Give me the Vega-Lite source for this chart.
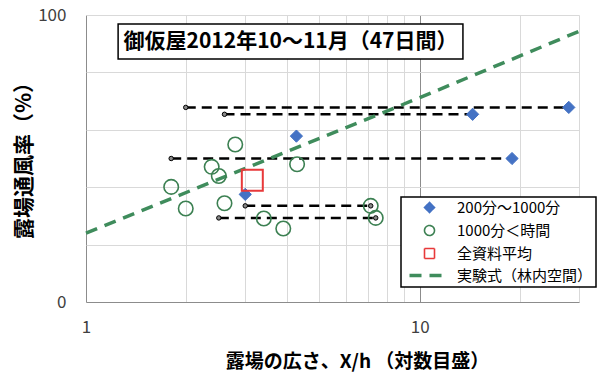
{
  "$schema": "https://vega.github.io/schema/vega-lite/v6.json",
  "width": 493,
  "height": 287,
  "autosize": "none",
  "padding": {"left": 86, "top": 15, "right": 21, "bottom": 84},
  "background": "white",
  "config": {"font": "Noto Sans CJK JP", "view": {"stroke": null}},
  "datasets": {
    "segs": [
      {"x1": 1.99, "x2": 27.96, "y": 67.8},
      {"x1": 2.6, "x2": 14.4, "y": 65.4},
      {"x1": 1.8, "x2": 18.9, "y": 50.0},
      {"x1": 3.0, "x2": 7.13, "y": 33.5},
      {"x1": 2.5, "x2": 7.38, "y": 29.3}
    ],
    "eq": [
      {"x": 1, "y": 24.0},
      {"x": 10, "y": 71.2},
      {"x": 30, "y": 94.3}
    ],
    "pts": [
      {"s": "1000分＜時間", "x": 2.8, "y": 54.9},
      {"s": "1000分＜時間", "x": 2.38, "y": 47.1},
      {"s": "1000分＜時間", "x": 2.5, "y": 43.9},
      {"s": "1000分＜時間", "x": 1.8, "y": 40.1},
      {"s": "1000分＜時間", "x": 1.99, "y": 32.6},
      {"s": "1000分＜時間", "x": 2.6, "y": 34.4},
      {"s": "1000分＜時間", "x": 4.29, "y": 48.0},
      {"s": "1000分＜時間", "x": 3.41, "y": 29.1},
      {"s": "1000分＜時間", "x": 3.9, "y": 25.6},
      {"s": "1000分＜時間", "x": 7.13, "y": 33.5},
      {"s": "1000分＜時間", "x": 7.38, "y": 29.3}
    ],
    "dia": [
      {"s": "200分～1000分", "x": 4.27, "y": 57.8},
      {"s": "200分～1000分", "x": 3.0, "y": 37.5},
      {"s": "200分～1000分", "x": 14.4, "y": 65.4},
      {"s": "200分～1000分", "x": 27.96, "y": 67.8},
      {"s": "200分～1000分", "x": 18.9, "y": 50.0}
    ],
    "avg": [
      {"s": "全資料平均", "x": 3.15, "y": 42.4}
    ],
    "box": [
      {"x1": 1.248, "x2": 13.47, "y1": 96.9, "y2": 84.7, "xc": 4.1, "yc": 90.6, "label": "御仮屋2012年10～11月（47日間）"}
    ]
  },
  "layer": [
    {
      "data": {"name": "segs"},
      "mark": {"type": "rule", "color": "black", "strokeWidth": 2.5, "strokeDash": [10, 6]},
      "encoding": {
        "x": {
          "field": "x1", "type": "quantitative",
          "scale": {"type": "log", "domain": [1, 30], "nice": false},
          "axis": {
            "values": [1, 2, 3, 4, 5, 6, 7, 8, 9, 10, 20, 30],
            "labelExpr": "datum.value == 1 || datum.value == 10 ? datum.value + '' : ''",
            "labelFontSize": 17, "labelColor": "#404040", "labelPadding": 17,
            "labelOverlap": false, "labelFlush": false,
            "ticks": false, "domain": false,
            "gridColor": {"condition": {"test": "datum.value == 10 || datum.value == 1", "value": "#8c8c8c"}, "value": "#d9d9d9"},
            "title": "露場の広さ、X/h （対数目盛）",
            "titleFontSize": 19, "titleFontWeight": "bold", "titleColor": "black",
            "titlePadding": 17, "titleX": 271
          }
        },
        "x2": {"field": "x2"},
        "y": {
          "field": "y", "type": "quantitative",
          "scale": {"domain": [0, 100], "nice": false},
          "axis": {
            "values": [0, 10, 20, 30, 40, 50, 60, 70, 80, 90, 100],
            "labelExpr": "datum.value % 50 == 0 ? datum.value + '' : ''",
            "labelFontSize": 17, "labelColor": "#404040", "labelPadding": 20,
            "labelOverlap": false, "labelFlush": false,
            "ticks": false, "domain": false,
            "gridColor": {"condition": {"test": "datum.value == 50 || datum.value == 0", "value": "#8c8c8c"}, "value": "#d9d9d9"},
            "title": "露場通風率（%）",
            "titleFontSize": 21, "titleFontWeight": "bold", "titleColor": "black",
            "titlePadding": 3, "titleY": 140
          }
        }
      }
    },
    {
      "data": {"name": "segs"},
      "mark": {"type": "point", "filled": true, "fill": "#888888", "stroke": "black", "strokeWidth": 1, "size": 20, "opacity": 1},
      "encoding": {"x": {"field": "x1", "type": "quantitative"}, "y": {"field": "y", "type": "quantitative"}}
    },
    {
      "data": {"name": "segs"},
      "mark": {"type": "point", "filled": true, "fill": "#888888", "stroke": "black", "strokeWidth": 1, "size": 20, "opacity": 1},
      "encoding": {"x": {"field": "x2", "type": "quantitative"}, "y": {"field": "y", "type": "quantitative"}}
    },
    {
      "data": {"name": "eq"},
      "mark": {"type": "line", "color": "#3f8c5c", "strokeWidth": 3.5, "strokeDash": [12, 8]},
      "encoding": {"x": {"field": "x", "type": "quantitative"}, "y": {"field": "y", "type": "quantitative"}}
    },
    {
      "data": {"name": "pts"},
      "mark": {"type": "point", "strokeWidth": 1.6, "opacity": 1, "size": 210, "fill": "transparent"},
      "encoding": {
        "x": {"field": "x", "type": "quantitative"},
        "y": {"field": "y", "type": "quantitative"},
        "shape": {
          "field": "s", "type": "nominal",
          "scale": {"domain": ["200分～1000分", "1000分＜時間", "全資料平均", "実験式（林内空間）"], "range": ["diamond", "circle", "square", "stroke"]},
          "legend": {
            "title": null, "orient": "none", "legendX": 315, "legendY": 182,
            "fillColor": "white", "strokeColor": "black", "padding": 3,
            "labelFontSize": 15, "labelColor": "black", "labelOffset": 20, "labelLimit": 300,
            "symbolSize": 100, "symbolStrokeWidth": 1.6, "rowPadding": 6, "symbolOffset": 18,
            "encoding": {
              "legend": {"strokeWidth": {"value": 1.5}},
              "symbols": {
                "size": {"value": {"expr": "datum.value === '実験式（林内空間）' ? 1600 : 100"}},
                "strokeDash": {"value": {"expr": "datum.value === '実験式（林内空間）' ? [12, 8] : [1, 0]"}},
                "strokeWidth": {"value": {"expr": "datum.value === '実験式（林内空間）' ? 3.5 : 1.6"}},
                "fill": {"value": {"expr": "datum.value === '200分～1000分' ? '#4472c4' : 'transparent'"}}
              }
            }
          }
        },
        "stroke": {
          "field": "s", "type": "nominal",
          "scale": {"domain": ["200分～1000分", "1000分＜時間", "全資料平均", "実験式（林内空間）"], "range": ["#4472c4", "#3c8052", "#e8393a", "#3f8c5c"]}
        }
      }
    },
    {
      "data": {"name": "dia"},
      "mark": {"type": "point", "strokeWidth": 1, "opacity": 1, "size": 150, "filled": true, "fill": "#4472c4"},
      "encoding": {
        "x": {"field": "x", "type": "quantitative"},
        "y": {"field": "y", "type": "quantitative"},
        "shape": {"field": "s", "type": "nominal"},
        "stroke": {"field": "s", "type": "nominal"}
      }
    },
    {
      "data": {"name": "avg"},
      "mark": {"type": "point", "strokeWidth": 2, "opacity": 1, "size": 440, "fill": "transparent"},
      "encoding": {
        "x": {"field": "x", "type": "quantitative"},
        "y": {"field": "y", "type": "quantitative"},
        "shape": {"field": "s", "type": "nominal"},
        "stroke": {"field": "s", "type": "nominal"}
      }
    },
    {
      "data": {"name": "box"},
      "mark": {"type": "rect", "fill": "white", "stroke": "black", "strokeWidth": 1.5},
      "encoding": {
        "x": {"field": "x1", "type": "quantitative"},
        "x2": {"field": "x2"},
        "y": {"field": "y1", "type": "quantitative"},
        "y2": {"field": "y2"}
      }
    },
    {
      "data": {"name": "box"},
      "mark": {"type": "text", "fontSize": 21, "fontWeight": "bold", "color": "black", "align": "center", "baseline": "middle"},
      "encoding": {
        "x": {"field": "xc", "type": "quantitative"},
        "y": {"field": "yc", "type": "quantitative"},
        "text": {"field": "label"}
      }
    }
  ]
}
